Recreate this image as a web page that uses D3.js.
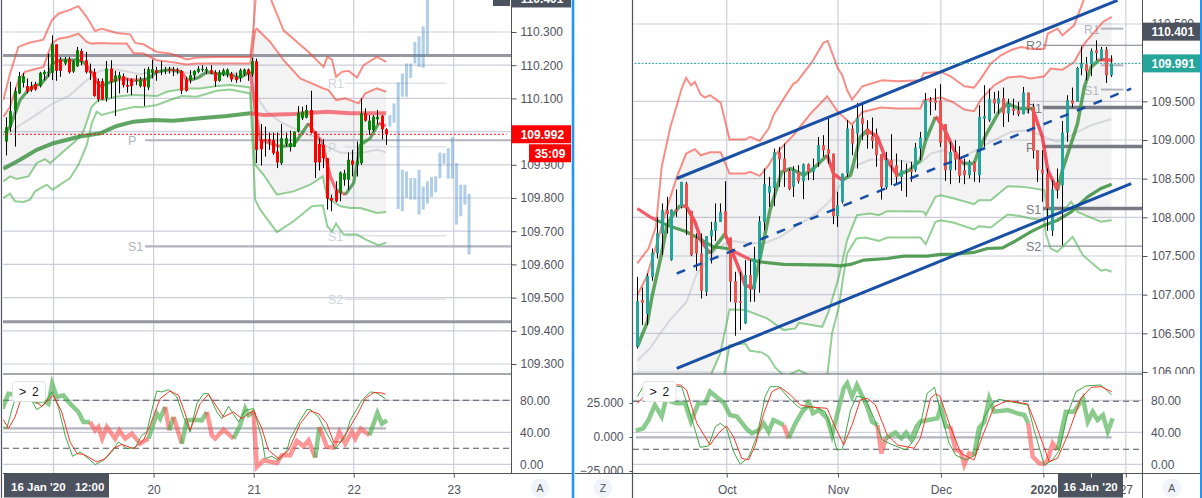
<!DOCTYPE html>
<html>
<head>
<meta charset="utf-8">
<script src="https://cdn.jsdelivr.net/npm/d3@7"></script>
<style>
  html, body { margin: 0; padding: 0; background: #fff; overflow: hidden; }
  svg { display: block; }
  text { font-family: "Liberation Sans", Arial, sans-serif; }
</style>
</head>
<body>
<svg id="chart" width="1202" height="498"></svg>
<script>
// === LEFT PANEL (hourly candles, bar 0 = first candle) ===
const leftOpen = [109.970,110.013,110.063,110.115,110.147,110.137,110.137,110.143,110.137,110.173,110.177,110.177,110.263,110.217,110.205,110.219,110.181,110.197,110.243,110.215,110.182,110.180,110.152,110.152,110.100,110.190,110.150,110.160,110.167,110.140,110.157,110.152,110.137,110.157,110.133,110.177,110.185,110.183,110.183,110.187,110.187,110.187,110.183,110.157,110.155,110.169,110.180,110.185,110.183,110.185,110.178,110.153,110.173,110.173,110.175,110.165,110.162,110.173,110.187,110.173,110.212,109.977,109.977,109.977,109.975,109.940,109.905,109.963,109.953,109.955,110.000,110.040,110.042,110.065,110.000,109.963,109.960,109.920,109.800,109.822,109.815,109.855,109.855,109.913,109.900,109.905,110.055,110.005,110.005,110.037,110.048,110.007];
const leftHigh = [110.043,110.150,110.133,110.180,110.177,110.160,110.150,110.150,110.180,110.185,110.235,110.290,110.263,110.225,110.225,110.225,110.215,110.255,110.250,110.240,110.205,110.190,110.160,110.160,110.213,110.215,110.183,110.180,110.175,110.160,110.160,110.170,110.165,110.190,110.195,110.217,110.195,110.212,110.195,110.195,110.195,110.192,110.185,110.165,110.185,110.185,110.197,110.200,110.195,110.200,110.185,110.185,110.190,110.190,110.180,110.177,110.190,110.190,110.190,110.223,110.220,110.023,110.015,109.997,109.997,109.997,110.023,109.997,110.003,110.000,110.077,110.075,110.080,110.123,110.000,109.980,109.977,109.920,109.810,109.850,109.880,109.885,109.937,109.945,109.970,110.100,110.070,110.050,110.050,110.065,110.050,110.010];
const leftLow = [109.928,110.000,109.955,110.113,110.133,110.115,110.120,110.123,110.133,110.155,110.165,110.155,110.153,110.165,110.200,110.175,110.177,110.195,110.200,110.175,110.155,110.105,110.090,110.095,110.090,110.100,110.047,110.115,110.133,110.117,110.110,110.140,110.133,110.077,110.125,110.160,110.153,110.170,110.173,110.175,110.167,110.173,110.113,110.120,110.145,110.157,110.177,110.180,110.173,110.173,110.135,110.150,110.167,110.163,110.150,110.147,110.150,110.167,110.153,110.165,109.905,109.898,109.925,109.945,109.930,109.890,109.900,109.955,109.940,109.953,109.997,110.035,110.040,109.995,109.860,109.883,109.890,109.765,109.760,109.787,109.790,109.837,109.825,109.865,109.865,109.900,110.030,109.990,110.000,110.023,109.977,109.960];
const leftClose = [110.013,110.062,110.122,110.167,110.167,110.120,110.125,110.127,110.177,110.180,110.180,110.263,110.183,110.183,110.217,110.179,110.212,110.245,110.212,110.179,110.177,110.107,110.097,110.097,110.190,110.150,110.169,110.170,110.140,110.135,110.137,110.155,110.157,110.135,110.188,110.188,110.177,110.185,110.187,110.183,110.183,110.183,110.123,110.123,110.170,110.183,110.189,110.189,110.188,110.175,110.152,110.178,110.185,110.187,110.157,110.155,110.185,110.187,110.173,110.212,109.945,109.947,109.975,109.970,109.935,109.907,109.980,109.980,109.965,110.000,110.057,110.060,110.065,109.997,109.907,109.907,109.920,109.798,109.792,109.790,109.877,109.875,109.915,109.900,109.912,110.055,110.033,110.033,110.045,110.045,110.007,109.992];

// [bar, price]
const leftUpperOuter = [[-0.7,110.095],[0.9,110.175],[2.9,110.255],[5.3,110.267],[8.9,110.277],[10.9,110.335],[12.5,110.355],[14.9,110.365],[17.3,110.378],[19.3,110.345],[21.3,110.303],[22.9,110.31],[26.5,110.297],[29.7,110.293],[30.9,110.267],[32.9,110.263],[36.1,110.24],[39.3,110.235],[43.3,110.217],[45.7,110.223],[50.5,110.225],[58.5,110.225],[59.3,110.315],[60.1,110.45],[61.8,110.45],[66.5,110.305],[72.5,110.24],[76.1,110.195],[77,110.225],[78.1,110.217],[79.1,110.165],[80.5,110.18],[82.1,110.183],[84.1,110.163],[85.7,110.2],[88.9,110.225],[91.1,110.21]];
const leftUpperInner = [[-0.7,110.045],[0.9,110.075],[2.9,110.155],[4.5,110.18],[6.5,110.187],[8.9,110.195],[10.9,110.265],[12.5,110.28],[14.9,110.285],[17.3,110.295],[19.3,110.27],[20.5,110.265],[22.5,110.267],[25.7,110.265],[28.9,110.265],[30.5,110.237],[32.9,110.235],[36.1,110.215],[39.3,110.21],[43.3,110.202],[45.7,110.205],[50.5,110.205],[58.5,110.205],[59.7,110.305],[60.1,110.31],[63.3,110.27],[66.5,110.215],[70.5,110.16],[76.1,110.13],[77.3,110.125],[79.1,110.095],[81.3,110.1],[84.5,110.085],[86.1,110.115],[88.9,110.13],[91.1,110.12]];
const leftLowerInner = [[-0.7,109.85],[0.9,109.865],[2.5,109.857],[5.3,109.865],[7.3,109.905],[9.3,109.917],[10.5,109.905],[13.7,109.94],[16.5,109.97],[18.5,110],[20.5,110.075],[22.1,110.095],[24.1,110.097],[26.1,110.105],[30.5,110.11],[36.1,110.107],[38.5,110.12],[40.9,110.125],[42.9,110.13],[46.5,110.13],[50.5,110.137],[53.7,110.14],[58.5,110.133],[59.7,109.9],[61.7,109.87],[64.9,109.81],[68.9,109.82],[72.9,109.84],[75.9,109.865],[77,109.8],[80.1,109.775],[82.5,109.77],[84.9,109.77],[88.9,109.755],[91.1,109.758]];
const leftLowerOuter = [[-0.7,109.8],[0.9,109.813],[2.1,109.79],[4.1,109.788],[5.7,109.795],[6.9,109.82],[9.7,109.84],[11.1,109.825],[15.3,109.86],[17.3,109.9],[19.3,109.96],[20.5,110.025],[21.7,110.06],[22.9,110.05],[27.3,110.065],[30.9,110.075],[32.5,110.073],[36.1,110.08],[39.3,110.095],[42.1,110.107],[45.7,110.105],[50.5,110.123],[53.7,110.127],[58.5,110.115],[59.7,109.795],[60.9,109.765],[64.9,109.697],[68.9,109.73],[73.3,109.775],[75.9,109.778],[77,109.715],[78.1,109.7],[79.1,109.723],[80.9,109.69],[84.1,109.69],[86.5,109.673],[89.3,109.658],[91.1,109.665]];
const leftLongAvg = [[-0.7,109.888],[3.3,109.915],[7.3,109.945],[11.3,109.965],[17.7,109.985],[22.5,109.995],[26.5,110.017],[30.5,110.03],[35.3,110.035],[40.1,110.033],[46.5,110.04],[52.9,110.047],[58.5,110.055],[61.7,110.05],[68.9,110.053],[76.9,110.06],[82.5,110.055],[88.9,110.055],[91.1,110.055]];
const leftLongRed = [[58.5,92]];
const leftShortAvg = [[-0.3,109.995],[0.9,110.015],[2.1,110.055],[3.3,110.095],[4.9,110.12],[6.5,110.137],[8.5,110.145],[10.1,110.17],[11.1,110.205],[12.9,110.215],[15.1,110.215],[17,110.217],[19,110.205],[20.9,110.17],[22.5,110.135],[24.1,110.145],[26.1,110.155],[28.1,110.16],[30.1,110.155],[32.1,110.155],[34.1,110.16],[36.1,110.18],[39.3,110.187],[42.1,110.18],[43,110.16],[44.1,110.155],[46.1,110.163],[48.1,110.18],[50.5,110.175],[52.9,110.173],[56.1,110.163],[58.5,110.18],[59.9,110.05],[61,109.975],[63.3,109.965],[65.7,109.955],[68.9,109.96],[70.9,109.995],[72.5,110.025],[73.7,110],[75.7,109.97],[77.7,109.865],[79.1,109.825],[81.3,109.81],[83.3,109.845],[84.9,109.96],[87.3,109.98],[89.3,110.025],[91,110.017]];
const leftShortRed = [[19,22.5],[27,33],[41,44],[58.5,65.7],[72.5,81.3],[89.3,92]];
const leftGrayAvg = [[0.1,109.99],[3.3,110.02],[6.5,110.045],[10.9,110.083],[15.3,110.11],[19.3,110.155],[22.5,110.183],[26.5,110.187],[32.1,110.173],[36.1,110.183],[43.3,110.177],[50.5,110.173],[58.5,110.18],[60.1,110.105],[62.5,110.06],[65.7,110.03],[68.9,110.01],[73.7,109.985],[76.9,109.955],[80.1,109.937],[84.9,109.935],[88.9,109.945],[91.1,109.938]];

// projected bars pattern
const projUpStart = 92;
const projUpHigh = [110.05,110.085,110.148,110.175,110.205,110.205,110.27,110.287,110.317,110.425];
const projUpLow = [110.015,110.027,110.075,110.105,110.105,110.162,110.205,110.195,110.192,110.232];
const projDownStart = 94;
const projDownHigh = [110.075,109.885,109.88,109.86,109.86,109.885,109.835,109.85,109.863,109.865,109.937,109.935,109.95,109.983,109.905,109.84,109.84,109.813];
const projDownLow = [109.767,109.76,109.8,109.795,109.795,109.75,109.765,109.783,109.803,109.817,109.86,109.903,109.858,109.858,109.72,109.745,109.78,109.63];

const leftPriceTicks = [110.3,110.2,110.1,110,109.9,109.8,109.7,109.6,109.5,109.4,109.3];
const leftDayTicks = [11.33,35.33,59.33,83.33,107.33];
const leftDayLabels = ["","20","21","22","23"];
const leftMajorLevels = [110.229,109.427];
const leftPivotNames = ["P","S1"];
const leftPivotValues = [109.974,109.654];
const leftFaintNames = ["R1","P","S1","S2"];
const leftFaintValues = [110.146,109.954,109.686,109.495];

// oscillator, left
const leftOscFast = [[-0.9,69.6],[0.5,88.3],[3.3,86.3],[5.7,82.1],[7.3,77.9],[8.9,80],[10.1,75.8],[11,100.8],[12.1,84.2],[13.7,86.3],[15.3,75.8],[17.3,65.4],[18.5,52.9],[20.1,52.9],[21.3,42.5],[22.1,46.7],[23,32.1],[24.1,46.7],[26.1,32.1],[27.1,42.5],[28.5,32.1],[30.1,38.3],[32.1,25.8],[34.1,32.1],[36.1,63.3],[36.9,57.1],[38.1,71.7],[39.1,42.5],[40.1,59.2],[42.1,25.8],[43.3,55],[44.9,55.8],[46.9,55],[48.1,65.4],[49.3,36.3],[50.1,32.1],[52.1,43.3],[54.5,32.1],[56.1,48.8],[57.3,69.6],[58.1,61.3],[59.3,65.4],[60.1,-3.3],[61.7,5],[64.9,1.7],[66.1,11.3],[68.1,11.3],[69.7,29.2],[71.3,22.5],[72.5,30],[74.1,8.3],[75.1,46.7],[76.9,21.7],[78.5,20.8],[79.9,40.4],[81.3,25.8],[82.9,40.4],[83.7,32.1],[85,44.6],[87.1,36.3],[89,64.2],[90.1,50.8],[91.3,55]];
const leftOscRed = [[20.1,34.1],[38.1,39.1],[40.1,42.1],[48.1,54.5],[59.3,74.1],[75.1,87.1]];
const leftOscK = [[-0.7,46.7],[0.1,44.6],[1.3,67.5],[2.5,88.3],[4.5,98.8],[5.7,88.3],[6.5,75.8],[7.3,68.3],[8.9,73.8],[10.9,90.4],[12.5,71.7],[14.1,36.3],[15.9,10],[17.7,15.4],[19.7,7.1],[21.3,-0.4],[23.3,5],[25.3,15.4],[26.9,27.9],[28.9,19.6],[30.9,20.8],[32.5,36.3],[33.7,40.4],[34.9,67.5],[36.1,91.7],[37.3,90.4],[38.9,93.3],[40.9,84.2],[42.5,59.2],[44.1,40.4],[45.7,75.8],[47.3,88.3],[48.5,88.3],[50.5,65.4],[51.7,57.1],[53.3,72.5],[55.7,52.9],[57.3,67.5],[59.3,69.6],[61.3,32.1],[62.1,7.1],[63.7,10],[65.3,5],[67.3,17.5],[68.1,32.1],[70.5,55],[72.1,68.3],[73,68.3],[74.9,59.2],[76.9,38.3],[78.9,19.6],[81.3,34.2],[82.5,55],[85.3,80],[87.3,90.4],[88.7,89.6],[90.9,82.1]];
const leftOscD = [[-0.7,55.8],[0.5,44.6],[2.1,59.2],[3.7,84.2],[6.1,82.1],[8.5,72.5],[11.3,86.3],[13.3,65.4],[15.3,27.9],[17,13.3],[18.5,12.5],[21.7,3],[23.7,7.1],[25.7,19.6],[27.7,25],[30.5,19.6],[32.9,30],[34.5,48.8],[36.9,82.1],[39.3,91.7],[41.3,86.3],[42.9,63.3],[44.1,42.5],[46.5,75.8],[48.5,87.5],[50.5,71.7],[52.1,59.2],[54.5,65.4],[56.5,57.1],[59.3,67.5],[61.3,44.6],[62.9,17.5],[65.3,7.1],[67.7,17.5],[70.5,50.8],[72.9,66.7],[74.9,63.3],[76.9,50.8],[78.5,27.9],[80.1,27.9],[81.7,40.4],[84.1,61.3],[86.1,82.1],[88.1,89.6],[90.1,89.2],[91,87.5]];
const leftOscBase = 45;

// === RIGHT PANEL (daily candles) ===
const rightOpen = [106.327,106.930,106.749,107.231,107.533,107.791,108.093,107.447,108.101,108.136,108.437,108.084,107.727,107.533,107.037,107.757,107.826,107.942,108.080,107.739,107.175,106.917,106.628,107.253,107.068,107.455,107.942,108.317,108.381,108.842,108.760,108.601,108.394,108.588,108.467,108.687,108.588,108.717,108.933,108.881,108.825,108.015,108.200,108.566,109.148,109.083,109.286,109.148,109.049,109.083,108.816,108.386,108.739,108.674,108.523,108.609,108.618,108.609,108.889,109.019,109.514,109.514,109.514,109.204,108.609,108.846,108.747,108.609,108.545,108.709,108.545,109.277,109.255,109.531,109.471,109.540,109.342,109.406,109.385,109.333,109.613,109.428,108.868,108.618,108.566,107.826,108.459,108.416,109.096,109.514,109.492,109.927,109.979,109.979,110.160,110.044,110.169,109.837];
const rightHigh = [107.231,107.093,107.274,107.597,108.006,108.179,108.265,108.101,108.360,108.459,108.459,108.084,107.791,107.791,107.757,107.942,108.179,108.179,108.467,107.739,107.296,107.296,107.447,107.447,107.619,108.015,108.631,108.523,108.889,108.911,108.954,108.631,108.661,108.674,108.696,108.696,108.760,109.040,109.062,109.286,108.825,108.330,108.566,109.255,109.191,109.479,109.471,109.255,109.290,109.148,108.816,108.846,109.075,108.825,108.739,108.696,108.717,108.963,109.105,109.609,109.557,109.665,109.721,109.204,108.976,108.997,108.920,108.760,108.739,108.717,109.449,109.708,109.665,109.622,109.635,109.678,109.535,109.535,109.492,109.686,109.613,109.471,108.868,108.868,108.631,108.480,108.631,109.247,109.579,109.678,109.945,110.212,110.074,110.182,110.289,110.203,110.203,110.095];
const rightLow = [106.305,106.607,106.607,107.180,107.468,107.511,107.791,107.438,108.006,108.114,107.770,107.498,107.309,106.951,106.981,107.404,107.696,107.942,107.739,106.908,106.469,106.542,106.620,106.908,106.908,107.025,107.826,108.136,108.144,108.394,108.394,108.351,108.265,108.437,108.235,108.480,108.480,108.653,108.782,108.696,107.912,107.877,108.179,108.523,108.803,108.631,108.997,108.889,108.889,108.653,108.230,108.360,108.416,108.437,108.342,108.265,108.459,108.588,108.739,109.006,109.320,109.385,108.911,108.472,108.429,108.609,108.446,108.429,108.502,108.459,108.450,108.911,109.234,109.342,109.342,109.169,109.234,109.320,109.307,109.333,109.342,108.760,108.459,108.200,107.826,107.757,108.243,107.640,108.976,109.419,109.492,109.837,109.772,109.824,110.031,110.031,109.738,109.815];
const rightClose = [106.917,106.895,107.240,107.541,107.800,108.093,108.041,108.101,108.075,108.459,108.114,107.511,107.533,107.050,107.757,107.834,107.942,108.067,107.739,107.167,106.895,106.895,107.253,107.068,107.468,107.950,108.429,108.403,108.842,108.752,108.588,108.364,108.609,108.467,108.687,108.588,108.653,108.933,108.868,108.816,108.015,108.157,108.566,109.148,108.954,109.286,109.204,109.062,108.988,108.803,108.394,108.739,108.674,108.523,108.609,108.618,108.588,108.902,109.032,109.514,109.492,109.479,108.963,108.609,108.846,108.747,108.536,108.545,108.717,108.588,109.299,109.307,109.531,109.471,109.540,109.342,109.471,109.376,109.333,109.613,109.406,108.859,108.609,108.566,108.114,108.360,108.360,109.096,109.514,109.471,109.932,109.988,109.889,110.151,110.126,110.173,109.837,109.988];

const rightUpperOuter = [[0,107.404],[2.3,107.597],[3.8,107.877],[5,108.653],[6.7,109.148],[9.1,109.665],[10,109.803],[11,109.708],[11.8,109.751],[13,109.587],[13.9,109.548],[14.9,109.579],[17.1,109.479],[18.9,109.006],[22.1,109.006],[23.1,109.04],[25.1,108.988],[26.9,109.148],[27.9,109.32],[30,109.535],[32,109.729],[32.7,109.751],[35.8,110.009],[38.1,110.255],[39,110.281],[41.1,109.923],[42,109.837],[43,109.643],[44,109.523],[46.1,109.695],[50.2,109.772],[53.3,109.759],[58.1,109.772],[58.7,109.867],[62.2,109.88],[64.2,109.824],[67,109.695],[69,109.678],[70.4,109.794],[72.4,109.988],[74.5,110.095],[76.5,110.16],[78.6,110.203],[80.6,110.181],[83.4,110.181],[84.1,110.375],[86.1,110.44],[87.1,110.354],[89.5,110.483],[91.3,110.784],[92.3,110.935]];
const rightUpperInner = [[0,106.994],[1.9,107.231],[4,107.662],[5.7,108.05],[8.1,108.523],[10,108.825],[11.8,108.881],[13,108.803],[14.9,108.842],[17.1,108.842],[18.9,108.566],[22.1,108.566],[23.1,108.588],[25.1,108.536],[26.9,108.674],[27.9,108.782],[30,108.933],[32,109.062],[35.5,109.342],[38.9,109.566],[41.1,109.363],[44,109.2],[46.1,109.363],[49.9,109.419],[53.3,109.406],[58,109.406],[58.7,109.514],[62.2,109.548],[64.6,109.492],[67,109.393],[69,109.372],[70.4,109.523],[73.1,109.708],[75.9,109.807],[78.6,109.824],[80.6,109.794],[83.4,109.824],[84.7,109.923],[87.1,109.91],[89.5,110.009],[91.6,110.246],[95.4,110.526],[97.2,110.591]];
const rightLowerInner = [[0,105.2],[12.2,105.2],[15.3,105.995],[17,106.241],[18.9,106.809],[22.1,106.801],[26.6,106.693],[30,106.542],[32.4,106.564],[33.1,106.637],[37.9,106.585],[39.2,106.779],[41.3,107.231],[43,107.705],[45,108.028],[47.8,108.05],[49.5,108.028],[51.2,108.08],[58,108.075],[58.7,108.071],[59.1,108.028],[61.1,108.265],[62.2,108.286],[64.9,108.243],[69,108.17],[70,108.222],[72.4,108.222],[75.9,108.403],[78.6,108.394],[80.6,108.381],[83.4,108.351],[84.1,108.006],[86.8,108.05],[88.9,108.2],[90.2,108.071],[95,107.942],[97.2,107.963]];
const rightLowerOuter = [[0,104.5],[16,104.5],[17.9,105.995],[18.9,106.348],[22.1,106.37],[23.1,106.275],[25.5,106.254],[26.9,106.198],[28.3,106.056],[30.3,105.94],[33.1,106.025],[35.8,105.94],[38.9,105.94],[39.9,106.499],[41.3,106.844],[42.3,107.274],[43,107.533],[44.9,107.727],[46.7,107.739],[49.5,107.696],[51.2,107.739],[58,107.739],[59.1,107.653],[61.1,107.942],[62.2,107.963],[64.9,107.929],[69,107.843],[70,107.886],[72.4,107.869],[75.9,108.037],[78.6,108.015],[80.6,107.985],[83.4,107.963],[83.7,107.791],[84.7,107.597],[86.1,107.554],[89.2,107.748],[91.3,107.511],[95,107.309],[96,107.326],[97.2,107.296]];
const rightLongAvg = [[0,108.114],[2.6,108.006],[4,107.963],[6,107.899],[10.1,107.813],[13.2,107.705],[15.6,107.619],[18.3,107.597],[19,107.584],[23.1,107.455],[25.1,107.425],[30,107.391],[39.6,107.382],[41.6,107.373],[43.7,107.391],[46.4,107.447],[51.2,107.468],[54.6,107.498],[59.4,107.498],[62.2,107.52],[64.9,107.524],[69,107.546],[71.7,107.597],[74.8,107.606],[77.2,107.684],[80.6,107.813],[83.4,107.899],[86.1,107.963],[88.9,108.071],[92.3,108.265],[95,108.373],[97.2,108.429]];
const rightLongRed = [[0,4],[19,23.1]];
const rightShortAvg = [[0,106.327],[2.1,106.65],[3,106.973],[5,107.533],[6,107.877],[7,108.006],[8.8,108.157],[10.1,108.136],[11.8,107.942],[13.2,107.684],[14.9,107.533],[17,107.705],[18,107.791],[19,107.619],[20.4,107.404],[22.1,107.124],[23.8,107.08],[25.2,107.49],[27.2,108.093],[29.6,108.588],[31.4,108.631],[34.1,108.545],[36.1,108.631],[38.9,108.803],[40.2,108.566],[42,108.48],[43.7,108.545],[45.7,109.04],[47.1,109.126],[49.2,109.04],[50.9,108.76],[53.3,108.545],[55.7,108.609],[58,108.739],[59.1,108.997],[61.1,109.299],[61.5,109.277],[63.2,109.105],[64.9,108.868],[66.6,108.696],[69,108.696],[70,108.868],[71.4,109.062],[74.1,109.363],[75.9,109.471],[78.2,109.406],[81,109.406],[83,109.04],[84.1,108.609],[86.1,108.351],[87.1,108.609],[88.9,108.954],[90.2,109.212],[91.6,109.686],[93,109.945],[94.7,110.04],[97.4,110.031]];
const rightShortRed = [[8.8,14.9],[18,23.8],[38.9,42],[47.1,53.3],[61.1,66.6],[81,86.1],[95,97.4]];
const rightGrayAvg = [[0,106.146],[2.6,106.305],[4.7,106.499],[6.7,106.671],[10.1,106.908],[12.2,107.274],[16.3,107.597],[19,107.696],[22.1,107.67],[25.9,107.662],[29.3,107.748],[33.4,107.92],[36.8,108.05],[39.6,108.222],[42.3,108.48],[45,108.674],[47.8,108.747],[53.3,108.739],[58,108.696],[60.1,108.825],[62.8,108.868],[66.3,108.76],[71.7,108.954],[76.5,109.105],[80,109.126],[83.4,109.04],[86.1,108.976],[88.9,109.062],[93,109.191],[97.1,109.268]];

const channelUpper = [[8.08,108.502],[98.4,110.806]];
const channelMiddle = [[8.08,107.274],[101.2,109.665]];
const channelLower = [[8.08,106.047],[101.2,108.437]];

const rightPriceTicks = [110.5,109.5,109,108.5,108,107.5,107,106.5,106];
const rightMonthTicks = [18.32,41.13,62.2,83.2,100.1];
const rightMonthLabels = ["Oct","Nov","Dec","2020","27"];
const rightMajorNames = ["R1","P","S1"];
const rightMajorValues = [109.419,108.915,108.114];
const rightThinNames = ["R2","S2"];
const rightThinValues = [110.225,107.628];
const rightFaintNames = ["R1","","S1"];
const rightFaintValues = [110.44,109.966,109.652];

const rightOscFast = [[-0.3,42],[1.2,45],[2.3,55.4],[3.6,74.2],[5,59.6],[6,84.6],[7,78.3],[8.1,76.2],[9.8,76.2],[11,53.3],[12.5,76.2],[13.9,76.2],[14.9,90.8],[17.7,77],[19,61.6],[20.4,59.6],[22.5,43.7],[23.5,38.7],[24.9,42.9],[25.9,51.2],[26.9,40.8],[27.9,55.4],[30,49.2],[31,32.5],[32.4,51.2],[33.8,65.8],[34.8,72.1],[35,80.4],[36,63.7],[37.2,67.9],[38.9,57.5],[39.9,36.7],[42.3,95],[43,101.2],[44,84.6],[45,99.2],[47.1,72.1],[48.1,53.3],[49.2,49.2],[50,13.7],[50.9,32.5],[52.9,39.6],[54.1,32.5],[55.1,39.6],[56.1,31.2],[57.2,47.1],[58,53.3],[61.5,57.5],[62.2,72.1],[63.2,47.1],[64.1,47.1],[65.2,17.9],[66.3,15.8],[67,-0.9],[68,13.7],[69,11.6],[70,45],[71.1,53.3],[72.1,82.5],[73.1,65.8],[75.9,67.9],[77.9,63.7],[79.3,61.6],[80.1,51.2],[81,9.6],[82.4,1.2],[83.4,0.4],[84.1,5.4],[85.1,26.2],[86.1,17.9],[87.8,65.8],[89.5,65.8],[91.3,82.5],[92.3,53.3],[93.3,65.8],[94.3,55.4],[95.4,61.6],[96.4,40.8],[97.4,57.5]];
const rightOscRed = [[30,31],[49.2,50.9],[64.1,69],[80.1,86.1]];
const rightOscK = [[0,84.6],[1.2,97],[4.3,99.2],[9.1,97],[10.8,63.7],[12.9,21.2],[14.6,22.9],[16,47.1],[17,51.2],[18.3,45],[19.7,15.8],[21.1,0],[22.8,8.7],[24.5,34.6],[26.2,84.6],[27.2,97],[29,97],[31.4,80.4],[33.4,70],[36.1,72.1],[38.5,65.8],[39.6,47.1],[40.9,17.9],[42,18.7],[43.7,67.9],[45,85.4],[46.7,82.5],[48.5,57.5],[50.2,30.4],[51.9,25.4],[55,17.9],[56.7,30.4],[58,49.2],[59.4,88.7],[60.9,96.2],[62.2,63.7],[63.9,26.2],[65.2,11.6],[67.3,5.4],[69.3,11.6],[71.1,59.6],[72.8,76.2],[74.1,81.2],[76.5,78.3],[80,74.2],[81.3,42.9],[83.4,-0.9],[85.1,5.4],[86.5,17.9],[88.2,63.7],[89.9,90.8],[91.9,97.9],[95,99.2],[97.2,86.7]];
const rightOscD = [[0,76.2],[2.6,92.9],[5.3,99.2],[8.8,99.2],[10.1,92.9],[12.2,51.2],[14.9,24.2],[16.6,38.7],[18.3,47.9],[19.7,34.6],[21.4,7.5],[22.8,5.4],[24.2,24.2],[25.9,63.7],[27.6,90.8],[29.3,96.2],[31.4,86.7],[33.4,74.2],[36.1,71.2],[38.9,70],[40.2,51.2],[42.3,24.2],[44,49.2],[45.7,80.4],[47.1,82.5],[48.8,74.2],[51.2,36.7],[53.3,24.2],[56.7,20],[58,32.5],[60.1,82.5],[61.1,87.9],[62,85.4],[63.9,51.2],[66.3,13.7],[69,5.4],[70.7,34.6],[73.1,72.1],[75.9,79.6],[80,75.4],[81.7,49.2],[84.4,3.3],[86.1,7.5],[88.2,36.7],[90.9,82.5],[93,96.2],[95,97.1],[97.2,90.8]];
const rightOscBase = 33.75;

const oscTicks = [80,40,0];
const oscDashed = [80,20];
const zTicks = [25,0,-25];

const lastLeft = 109.992;
const lastRight = 109.991;
const crossPrice = 110.401;

// === COLOURS ===
const GRID = "#cdcedb", AXIS = "#50535e", TEXT = "#50535e", DARKBOX = "#4c525e";
const GREEN = "#4caf50", RED = "#f44336";
const AXIS_FONT = 12;

const svg = d3.select("#chart");
const fmt3 = d3.format(".3f");

// scales
const xL = d3.scaleLinear().domain([0, 91]).range([6.3, 385.7]);
const yL = d3.scaleLinear().domain([110.3, 109.3]).range([32, 364]);
const xR = d3.scaleLinear().domain([0, 97]).range([637.3, 1110.7]);
const yR = d3.scaleLinear().domain([110.5, 106]).range([24, 372]);
const oscL = d3.scaleLinear().domain([0, 80]).range([464.3, 400.3]);
const oscR = d3.scaleLinear().domain([0, 80]).range([464.3, 400.3]);
const zR = d3.scaleLinear().domain([25, -25]).range([403, 471]);

// clip rectangles for each pane
const defs = svg.append("defs");
function addClip(id, x, y, w, h) {
  defs.append("clipPath").attr("id", id).append("rect")
    .attr("x", x).attr("y", y).attr("width", w).attr("height", h);
}
addClip("mainL", 3, 0, 508, 374);
addClip("oscL", 3, 375, 508, 98);
addClip("mainR", 633, 0, 509, 374);
addClip("oscR", 633, 375, 509, 98);
addClip("axisOscZ", 575, 375, 58, 98);

function drawLine(g, pts, x, y, color, width, opacity, dash) {
  const line = d3.line().x(d => x(d[0])).y(d => y(d[1]));
  const p = g.append("path")
    .attr("d", line(pts))
    .attr("fill", "none")
    .attr("stroke", color)
    .attr("stroke-width", width)
    .attr("stroke-opacity", opacity === undefined ? 1 : opacity);
  if (dash) p.attr("stroke-dasharray", dash);
}

// a line that changes colour over the bar ranges given in redRanges
function drawRuns(g, pts, redRanges, x, y, green, red, width, opGreen, opRed) {
  const isRed = (a, b) => redRanges.some(r => (a[0] + b[0]) / 2 >= r[0] && (a[0] + b[0]) / 2 <= r[1]);
  let run = [pts[0]];
  let cur = isRed(pts[0], pts[1]);
  for (let i = 1; i < pts.length; i++) {
    const s = i < pts.length - 1 ? isRed(pts[i], pts[i + 1]) : cur;
    run.push(pts[i]);
    if (s !== cur || i === pts.length - 1) {
      drawLine(g, run, x, y, cur ? red : green, width, cur ? opRed : opGreen);
      run = [pts[i]];
      cur = s;
    }
  }
}

function drawBand(g, upper, lower, x, y) {
  // shaded area: walk along the upper line then back along the lower one
  const pts = upper.map(d => [x(d[0]), y(d[1])])
    .concat(lower.slice().reverse().map(d => [x(d[0]), y(d[1])]));
  g.append("path")
    .attr("d", "M" + pts.map(p => p.join(",")).join("L") + "Z")
    .attr("fill", "#787b86")
    .attr("fill-opacity", 0.09);
}

function drawCandles(g, o, h, l, c, x, y, up, down) {
  const idx = d3.range(o.length);
  g.selectAll("line.wick").data(idx).enter().append("line")
    .attr("class", "wick")
    .attr("x1", i => Math.round(x(i)) + 0.5).attr("x2", i => Math.round(x(i)) + 0.5)
    .attr("y1", i => y(h[i])).attr("y2", i => y(l[i]))
    .attr("stroke", "#000");
  g.selectAll("rect.body").data(idx).enter().append("rect")
    .attr("class", "body")
    .attr("x", i => Math.round(x(i)) - 1)
    .attr("width", 3)
    .attr("y", i => y(Math.max(o[i], c[i])))
    .attr("height", i => Math.max(1, Math.abs(y(o[i]) - y(c[i]))))
    .attr("fill", i => c[i] >= o[i] ? up : down);
}

function gridLines(g, xs, ys, x0, x1, y0, y1) {
  xs.forEach(v => g.append("line").attr("x1", v).attr("x2", v).attr("y1", y0).attr("y2", y1)
    .attr("stroke", GRID).attr("stroke-width", 1.2));
  ys.forEach(v => g.append("line").attr("x1", x0).attr("x2", x1).attr("y1", v).attr("y2", v)
    .attr("stroke", GRID).attr("stroke-width", 1.2));
}

function hLevel(g, x0, x1, yv, color, width) {
  g.append("line").attr("x1", x0).attr("x2", x1).attr("y1", yv).attr("y2", yv)
    .attr("stroke", color).attr("stroke-width", width);
}

function levelLabel(g, x, yv, txt, color) {
  g.append("text").attr("x", x).attr("y", yv + 5).text(txt)
    .attr("font-size", 12.5).attr("fill", color);
}

function styleAxis(a) {
  a.selectAll("text").attr("font-size", AXIS_FONT).attr("fill", TEXT)
    .style("font-family", "'Liberation Sans', Arial, sans-serif");
  a.selectAll("line").attr("stroke", AXIS);
  a.selectAll(".domain").attr("stroke", AXIS);
}

function box(g, x, y, w, h, color) {
  g.append("rect").attr("x", x).attr("y", y).attr("width", w).attr("height", h).attr("fill", color);
}

function boxText(g, x, y, txt, anchor) {
  g.append("text").attr("x", x).attr("y", y).attr("dy", "0.36em").text(txt)
    .attr("fill", "#fff").attr("font-size", 12).attr("font-weight", "bold")
    .attr("text-anchor", anchor || "start");
}

function legendButton(x) {
  const b = svg.append("g");
  b.append("rect").attr("x", x + 0.5).attr("y", 381.5).attr("width", 33).attr("height", 20).attr("rx", 3)
    .attr("fill", "#fff").attr("stroke", "#e0e3eb");
  b.append("text").attr("x", x + 7).attr("y", 396).text(">").attr("font-size", 12.5).attr("fill", "#131722");
  b.append("text").attr("x", x + 20).attr("y", 396).text("2").attr("font-size", 12).attr("fill", "#131722");
}

function roundLabel(x, txt) {
  svg.append("circle").attr("cx", x).attr("cy", 487.7).attr("r", 9.5).attr("fill", "#f0f3fa");
  svg.append("text").attr("x", x).attr("y", 491.5).attr("text-anchor", "middle")
    .text(txt).attr("font-size", 10.5).attr("fill", TEXT);
}

// ---------- left main pane ----------
const mainL = svg.append("g").attr("clip-path", "url(#mainL)");
gridLines(mainL, leftDayTicks.map(d => xL(d)), leftPriceTicks.map(d => yL(d)), 3, 511, 0, 374);
drawBand(mainL, leftUpperInner, leftLowerInner, xL, yL);
leftMajorLevels.forEach(v => hLevel(mainL, 3, 511, yL(v), "#9598a1", 3));
leftPivotValues.forEach((v, i) => {
  hLevel(mainL, xL(33.3), 511, yL(v), "#b2b5be", 2.2);
  levelLabel(mainL, 128, yL(v), leftPivotNames[i], "#b2b5be");
});
leftFaintValues.forEach((v, i) => {
  hLevel(mainL, xL(81.2), xL(105.5), yL(v), "#d1d4dc", 1);
  levelLabel(mainL, 328, yL(v), leftFaintNames[i], "#d1d4dc");
});
drawLine(mainL, leftGrayAvg, xL, yL, "#b2b5be", 2, 0.45);
[leftUpperOuter, leftUpperInner].forEach(d => drawLine(mainL, d, xL, yL, RED, 2, 0.6));
[leftLowerInner, leftLowerOuter].forEach(d => drawLine(mainL, d, xL, yL, GREEN, 2, 0.6));
drawRuns(mainL, leftLongAvg, leftLongRed, xL, yL, "#388e3c", "#f23645", 4, 0.8, 0.65);
drawRuns(mainL, leftShortAvg, leftShortRed, xL, yL, "#388e3c", "#f23645", 3.2, 0.8, 0.7);
drawCandles(mainL, leftOpen, leftHigh, leftLow, leftClose, xL, yL, "#088208", "#ff0000");

const projColor = "#3d85c6";
projUpHigh.forEach((v, i) => {
  mainL.append("rect").attr("x", xL(projUpStart + i) - 1.5).attr("width", 3)
    .attr("y", yL(v)).attr("height", yL(projUpLow[i]) - yL(v))
    .attr("fill", projColor).attr("fill-opacity", 0.4);
});
projDownHigh.forEach((v, i) => {
  mainL.append("rect").attr("x", xL(projDownStart + i) - 1.5).attr("width", 3)
    .attr("y", yL(v)).attr("height", yL(projDownLow[i]) - yL(v))
    .attr("fill", projColor).attr("fill-opacity", 0.4);
});
drawLine(mainL, [[-2, lastLeft], [120, lastLeft]], xL, yL, "#ff0000", 1.2, 1, "2,2");

// ---------- left oscillator ----------
const paneOscL = svg.append("g").attr("clip-path", "url(#oscL)");
gridLines(paneOscL, leftDayTicks.map(d => xL(d)), oscTicks.map(d => oscL(d)), 3, 511, 375, 473);
hLevel(paneOscL, 3, xL(91.1), oscL(leftOscBase), "#b2b5be", 2.2);
oscDashed.forEach(v => paneOscL.append("line").attr("x1", 3).attr("x2", 511)
  .attr("y1", oscL(v)).attr("y2", oscL(v)).attr("stroke", AXIS).attr("stroke-width", 1.1).attr("stroke-dasharray", "6,4"));
drawRuns(paneOscL, leftOscFast, leftOscRed, xL, oscL, GREEN, "#ff5252", 4.5, 0.65, 0.6);
drawLine(paneOscL, leftOscK, xL, oscL, "#2e9e32", 1, 0.9);
drawLine(paneOscL, leftOscD, xL, oscL, "#ff2a1f", 1, 0.95);

// ---------- right main pane ----------
const mainR = svg.append("g").attr("clip-path", "url(#mainR)");
gridLines(mainR, rightMonthTicks.map(d => xR(d)), rightPriceTicks.map(d => yR(d)), 633, 1142, 0, 374);
drawBand(mainR, rightUpperInner, rightLowerInner, xR, yR);
rightMajorValues.forEach((v, i) => {
  levelLabel(mainR, 1026, yR(v), rightMajorNames[i], "#787b86");
  hLevel(mainR, xR(83.1), 1142, yR(v), "#787b86", 3.5);
});
rightThinValues.forEach((v, i) => {
  levelLabel(mainR, 1026, yR(v), rightThinNames[i], "#787b86");
  hLevel(mainR, xR(83.1), 1142, yR(v), "#787b86", 1);
});
rightFaintValues.forEach((v, i) => {
  levelLabel(mainR, 1084, yR(v), rightFaintNames[i], "#b2b5be");
  hLevel(mainR, xR(95), xR(99.6), yR(v), "#b2b5be", 2);
});
drawLine(mainR, rightGrayAvg, xR, yR, "#b2b5be", 2, 0.45);
[rightUpperOuter, rightUpperInner].forEach(d => drawLine(mainR, d, xR, yR, RED, 2, 0.6));
[rightLowerInner, rightLowerOuter].forEach(d => drawLine(mainR, d, xR, yR, GREEN, 2, 0.6));
drawRuns(mainR, rightLongAvg, rightLongRed, xR, yR, "#388e3c", "#f23645", 3.2, 0.85, 0.8);
drawRuns(mainR, rightShortAvg, rightShortRed, xR, yR, "#388e3c", "#f23645", 3.5, 0.8, 0.85);
drawCandles(mainR, rightOpen, rightHigh, rightLow, rightClose, xR, yR, "#26a69a", "#ef5350");
drawLine(mainR, channelUpper, xR, yR, "#0d47a1", 3, 0.95);
drawLine(mainR, channelMiddle, xR, yR, "#0d47a1", 2.5, 0.95, "9,9");
drawLine(mainR, channelLower, xR, yR, "#0d47a1", 3, 0.95);
drawLine(mainR, [[-2, lastRight], [104, lastRight]], xR, yR, "#26a69a", 1, 1, "2,1.5");

// ---------- right oscillator ----------
const paneOscR = svg.append("g").attr("clip-path", "url(#oscR)");
gridLines(paneOscR, rightMonthTicks.map(d => xR(d)), oscTicks.map(d => oscR(d)), 633, 1142, 375, 473);
hLevel(paneOscR, 636, xR(97.2), oscR(rightOscBase), "#b2b5be", 2.2);
oscDashed.forEach(v => paneOscR.append("line").attr("x1", 633).attr("x2", 1142)
  .attr("y1", oscR(v) + 1).attr("y2", oscR(v) + 1).attr("stroke", AXIS).attr("stroke-width", 1.1).attr("stroke-dasharray", "6,4"));
drawRuns(paneOscR, rightOscFast, rightOscRed, xR, oscR, GREEN, "#ff5252", 4.5, 0.65, 0.6);
drawLine(paneOscR, rightOscK, xR, oscR, "#2e9e32", 1, 0.9);
drawLine(paneOscR, rightOscD, xR, oscR, "#ff2a1f", 1, 0.95);

// ---------- axes ----------
// 110.000 sits behind the red price tag, so it gets a tick but no label
const axisPriceL = svg.append("g").attr("transform", "translate(511.5,0)")
  .call(d3.axisRight(yL).tickValues(leftPriceTicks).tickFormat(d => d === 110 ? "" : fmt3(d)).tickSize(5).tickPadding(4));
styleAxis(axisPriceL);
axisPriceL.select(".domain").attr("d", "M0,0V473");

const axisOscL = svg.append("g").attr("transform", "translate(511.5,0)")
  .call(d3.axisRight(oscL).tickValues(oscTicks).tickFormat(d3.format(".2f")).tickSize(0).tickPadding(8.5));
styleAxis(axisOscL);
axisOscL.select(".domain").remove();

const axisPriceR = svg.append("g").attr("transform", "translate(1142.5,0)");
const axisPriceRInner = axisPriceR.append("g")
  .call(d3.axisRight(yR).tickValues(rightPriceTicks).tickFormat(fmt3).tickSize(5).tickPadding(4));
styleAxis(axisPriceRInner);
axisPriceRInner.select(".domain").attr("d", "M0,0V498");
// the 106.000 label stops at the pane border
axisPriceRInner.selectAll(".tick").filter(d => d === 106)
  .attr("clip-path", "url(#tickClip106)");
addClip("tickClip106", 0, -10, 60, 11.5);

const axisOscR = svg.append("g").attr("transform", "translate(1142.5,0)")
  .call(d3.axisRight(oscR).tickValues(oscTicks).tickFormat(d3.format(".2f")).tickSize(0).tickPadding(8.5));
styleAxis(axisOscR);
axisOscR.select(".domain").remove();

const axisZ = svg.append("g").attr("clip-path", "url(#axisOscZ)").append("g")
  .attr("transform", "translate(632.5,0)")
  .call(d3.axisLeft(zR).tickValues(zTicks).tickFormat(fmt3).tickSize(3).tickPadding(6));
styleAxis(axisZ);
axisZ.select(".domain").remove();

const axisTimeL = svg.append("g").attr("transform", "translate(0,473.5)")
  .call(d3.axisBottom(xL).tickValues(leftDayTicks).tickFormat((d, i) => leftDayLabels[i]).tickSize(4).tickPadding(7.5));
styleAxis(axisTimeL);
axisTimeL.select(".domain").remove();

const axisTimeR = svg.append("g").attr("transform", "translate(0,473.5)")
  .call(d3.axisBottom(xR).tickValues(rightMonthTicks).tickFormat((d, i) => rightMonthLabels[i]).tickSize(4).tickPadding(7.5));
styleAxis(axisTimeR);
axisTimeR.select(".domain").remove();
axisTimeR.selectAll("text").filter((d, i) => rightMonthLabels[i] === "2020").attr("font-weight", "bold");

// frame lines
[[3, 511, 374], [3, 511, 473.5], [633, 1142, 374], [633, 1142, 473.5], [575, 633, 473.5], [1142, 1200, 473.5], [511, 572, 473.5]].forEach(s => {
  svg.append("line").attr("x1", s[0]).attr("x2", s[1]).attr("y1", s[2]).attr("y2", s[2])
    .attr("stroke", AXIS).attr("stroke-width", 1.2);
});
[1.5, 632.5].forEach(x => {
  svg.append("line").attr("x1", x).attr("x2", x).attr("y1", 0).attr("y2", 498)
    .attr("stroke", AXIS).attr("stroke-width", 1.2);
});

// panel dividers
box(svg, 571.7, 0, 2.6, 498, "#2196f3");
box(svg, 1200, 0, 2, 498, "#2196f3");

// price tags, left
box(svg, 493, -10, 17, 16, DARKBOX);
box(svg, 511.5, yL(crossPrice) - 9, 59.5, 18, DARKBOX);
boxText(svg, 520.7, yL(crossPrice), fmt3(crossPrice));
box(svg, 511.5, yL(lastLeft) - 9, 59.5, 18, "#ff0000");
boxText(svg, 520.7, yL(lastLeft), fmt3(lastLeft));
box(svg, 529, yL(lastLeft) + 10, 42, 18, "#ff0000");
boxText(svg, 550, yL(lastLeft) + 19, "35:09", "middle");

// price tags, right
box(svg, 1142.5, yR(crossPrice) - 9, 57.5, 18, DARKBOX);
boxText(svg, 1151.5, yR(crossPrice), fmt3(crossPrice));
box(svg, 1142.5, yR(lastRight) - 9, 57.5, 18, "#26a69a");
boxText(svg, 1151.5, yR(lastRight), fmt3(lastRight));

// crosshair date tags
box(svg, 4, 473.5, 105, 24, DARKBOX);
svg.append("text").attr("x", 11).attr("y", 491).text("16 Jan '20").attr("fill", "#fff").attr("font-size", 11.5).attr("font-weight", "bold");
svg.append("text").attr("x", 75).attr("y", 491).text("12:00").attr("fill", "#fff").attr("font-size", 11.5).attr("font-weight", "bold");
box(svg, 1058, 473.5, 65, 24, DARKBOX);
svg.append("text").attr("x", 1090.5).attr("y", 491).attr("text-anchor", "middle").text("16 Jan '20").attr("fill", "#fff").attr("font-size", 11.5).attr("font-weight", "bold");
svg.append("line").attr("x1", 1091.5).attr("x2", 1091.5).attr("y1", 473.5).attr("y2", 477.5).attr("stroke", "#fff");

legendButton(12);
legendButton(642.5);
roundLabel(540, "A");
roundLabel(603, "Z");
roundLabel(1171.7, "A");
</script>
</body>
</html>
